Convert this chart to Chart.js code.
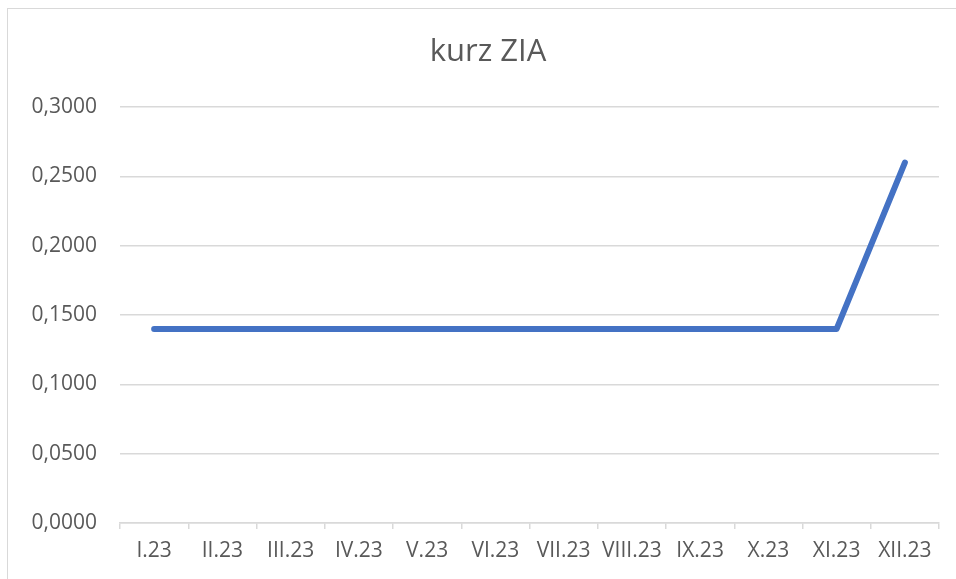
<!DOCTYPE html>
<html>
<head>
<meta charset="utf-8">
<script src="https://cdn.jsdelivr.net/npm/chart.js@4"></script>
<style>
  html, body { margin: 0; padding: 0; background: #fff; overflow: hidden; }
  #frame { position: absolute; left: 7px; top: 8px; width: 1000px; height: 1000px; border: 1px solid #d9d9d9; }
  #wrap { position: absolute; left: 0; top: 0; width: 956px; height: 579px; }
</style>
</head>
<body>
<div id="frame"></div>
<div id="wrap"><canvas id="kurz"></canvas></div>
<script>
var mesiace = ['I.23', 'II.23', 'III.23', 'IV.23', 'V.23', 'VI.23', 'VII.23', 'VIII.23', 'IX.23', 'X.23', 'XI.23', 'XII.23'];
var kurzZIA = [0.14, 0.14, 0.14, 0.14, 0.14, 0.14, 0.14, 0.14, 0.14, 0.14, 0.14, 0.26];
var osY = [0, 0.05, 0.1, 0.15, 0.2, 0.25, 0.3];

document.addEventListener("DOMContentLoaded", function () {
    var sivaText = '#595959';
    var sivaMriezka = '#d9d9d9';
    var ctx = document.getElementById('kurz').getContext('2d');
    new Chart(ctx, {
        type: 'line',
        data: {
            labels: mesiace,
            datasets: [{
                label: 'kurz ZIA',
                data: kurzZIA,
                borderColor: '#4472C4',
                backgroundColor: '#4472C4',
                borderWidth: 6,
                borderCapStyle: 'round',
                borderJoinStyle: 'round',
                pointRadius: 0,
                tension: 0
            }]
        },
        options: {
            responsive: true,
            maintainAspectRatio: false,
            animation: false,
            layout: { padding: { left: 20, right: 0, top: 0, bottom: 0 } },
            plugins: {
                legend: { display: false },
                tooltip: { enabled: false },
                title: {
                    display: true,
                    text: 'kurz ZIA',
                    color: sivaText,
                    font: { family: 'Open Sans', size: 31, weight: 'normal' },
                    padding: { top: 34, bottom: 36 }
                }
            },
            scales: {
                x: {
                    offset: true,
                    grid: { offset: true, drawOnChartArea: false, tickLength: 6, color: sivaMriezka, lineWidth: 1.5 },
                    border: { color: sivaMriezka, width: 1.5 },
                    ticks: {
                        color: sivaText,
                        font: { family: 'Open Sans', size: 21 },
                        padding: 9,
                        maxRotation: 0,
                        autoSkip: false
                    },
                    afterFit: function (scale) { scale.height = 56; }
                },
                y: {
                    min: 0,
                    max: 0.3,
                    afterBuildTicks: function (scale) {
                        scale.ticks = osY.map(function (v) { return { value: v }; });
                    },
                    grid: { drawTicks: false, color: sivaMriezka, lineWidth: 1.5 },
                    border: { display: false },
                    ticks: {
                        color: sivaText,
                        font: { family: 'Open Sans', size: 21 },
                        padding: 23,
                        callback: function (v) { return v.toFixed(4).replace('.', ','); }
                    },
                    afterFit: function (scale) { scale.width = 100; }
                },
                prazdna: {
                    position: 'right',
                    min: 0,
                    max: 0.3,
                    grid: { display: false, drawTicks: false },
                    border: { display: false },
                    ticks: { display: false },
                    afterFit: function (scale) { scale.width = 17; }
                }
            }
        }
    });
});
</script>
</body>
</html>
